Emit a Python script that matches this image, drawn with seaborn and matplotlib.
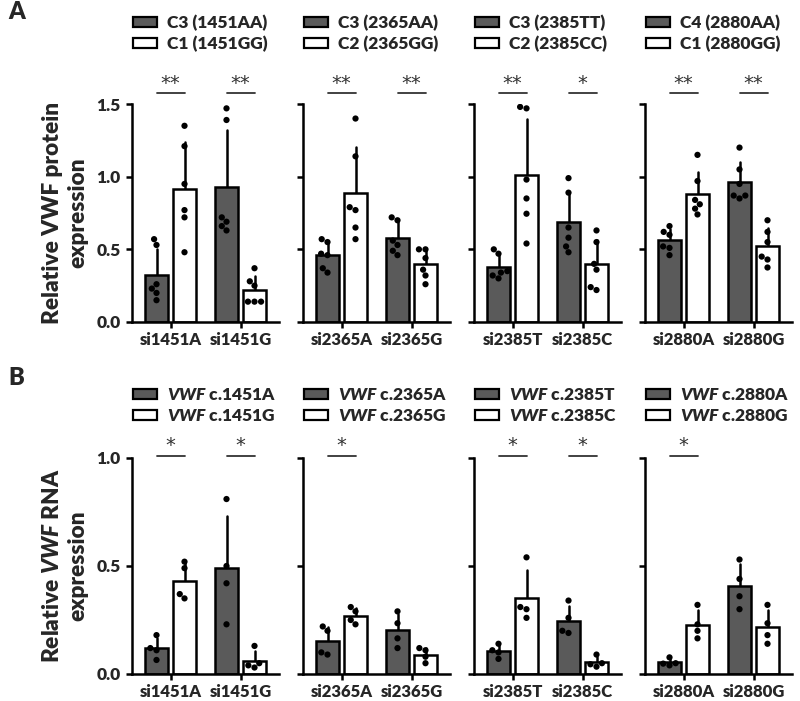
import numpy as np
import pandas as pd
import matplotlib
matplotlib.use("Agg")
import matplotlib.pyplot as plt
import seaborn as sns
from matplotlib.patches import Patch
from matplotlib.transforms import blended_transform_factory

sns.set_theme(style="ticks")
plt.rcParams['font.family'] = ['Lato', 'DejaVu Sans']
plt.rcParams['font.weight'] = 'heavy'
plt.rcParams['mathtext.fontset'] = 'custom'
plt.rcParams['mathtext.it'] = 'Lato:italic:heavy'
plt.rcParams['mathtext.rm'] = 'Lato:heavy'
plt.rcParams['mathtext.bf'] = 'Lato:heavy'

# ---------------- data: panel A (protein) ----------------
A_cats = [["si1451A", "si1451G"], ["si2365A", "si2365G"],
          ["si2385T", "si2385C"], ["si2880A", "si2880G"]]
A_legend_dark = ["C3 (1451AA)", "C3 (2365AA)", "C3 (2385TT)", "C4 (2880AA)"]
A_legend_white = ["C1 (1451GG)", "C2 (2365GG)", "C2 (2385CC)", "C1 (2880GG)"]
A_sig = [["**", "**"], ["**", "**"], ["**", "*"], ["**", "**"]]

A_1451_dark = [[0.57, 0.53, 0.26, 0.23, 0.20, 0.15], [1.47, 1.39, 0.72, 0.69, 0.66, 0.63]]
A_1451_white = [[1.35, 1.21, 0.95, 0.77, 0.72, 0.48], [0.37, 0.28, 0.25, 0.14, 0.14, 0.14]]
A_2365_dark = [[0.57, 0.55, 0.47, 0.46, 0.37, 0.34], [0.72, 0.70, 0.56, 0.53, 0.49, 0.46]]
A_2365_white = [[1.40, 1.14, 0.79, 0.77, 0.65, 0.57], [0.50, 0.50, 0.44, 0.36, 0.32, 0.26]]
A_2385_dark = [[0.50, 0.47, 0.35, 0.34, 0.32, 0.30], [0.99, 0.89, 0.65, 0.58, 0.52, 0.48]]
A_2385_white = [[1.47, 1.48, 0.98, 0.85, 0.745, 0.54], [0.63, 0.55, 0.40, 0.36, 0.24, 0.22]]
A_2880_dark = [[0.66, 0.62, 0.60, 0.52, 0.51, 0.46], [1.20, 1.05, 0.95, 0.87, 0.87, 0.85]]
A_2880_white = [[1.15, 0.97, 0.84, 0.81, 0.78, 0.74], [0.70, 0.62, 0.55, 0.45, 0.43, 0.375]]

# ---------------- data: panel B (RNA) ----------------
B_cats = A_cats
B_legend_dark = ["$\\it{VWF}$ c.1451A", "$\\it{VWF}$ c.2365A", "$\\it{VWF}$ c.2385T", "$\\it{VWF}$ c.2880A"]
B_legend_white = ["$\\it{VWF}$ c.1451G", "$\\it{VWF}$ c.2365G", "$\\it{VWF}$ c.2385C", "$\\it{VWF}$ c.2880G"]
B_sig = [["*", "*"], ["*", ""], ["*", "*"], ["*", ""]]

B_1451_dark = [[0.18, 0.12, 0.11, 0.065], [0.81, 0.50, 0.42, 0.23]]
B_1451_white = [[0.52, 0.49, 0.37, 0.35], [0.13, 0.05, 0.04, 0.03]]
B_2365_dark = [[0.22, 0.20, 0.10, 0.09], [0.29, 0.235, 0.165, 0.12]]
B_2365_white = [[0.31, 0.29, 0.25, 0.23], [0.12, 0.11, 0.08, 0.05]]
B_2385_dark = [[0.14, 0.11, 0.10, 0.07], [0.34, 0.26, 0.20, 0.19]]
B_2385_white = [[0.54, 0.31, 0.30, 0.26], [0.09, 0.05, 0.045, 0.034]]
B_2880_dark = [[0.077, 0.05, 0.048, 0.04], [0.53, 0.44, 0.36, 0.30]]
B_2880_white = [[0.32, 0.23, 0.20, 0.165], [0.32, 0.235, 0.18, 0.14]]

A_dark = [A_1451_dark, A_2365_dark, A_2385_dark, A_2880_dark]
A_white = [A_1451_white, A_2365_white, A_2385_white, A_2880_white]
B_dark = [B_1451_dark, B_2365_dark, B_2385_dark, B_2880_dark]
B_white = [B_1451_white, B_2365_white, B_2385_white, B_2880_white]

DARK = "#5a5a5a"
WT = "heavy"
W, H = 800, 701
fig = plt.figure(figsize=(W / 100, H / 100), dpi=100)

lefts_px = [132, 303, 474, 645]
width_px = 147


def make_df(cats, dark, white):
    rows = []
    for i, c in enumerate(cats):
        for v in dark[i]:
            rows.append((c, "dark", v))
        for v in white[i]:
            rows.append((c, "white", v))
    return pd.DataFrame(rows, columns=["cat", "grp", "val"])


def draw_row(top_px, bot_px, cats_all, darks, whites, leg_d, leg_w, sigs,
             ymax, yticks, ylabel, sig_line_px, sig_txt_px, leg_mid_px):
    h_px = bot_px - top_px
    for p in range(4):
        ax = fig.add_axes([lefts_px[p] / W, 1 - bot_px / H, width_px / W, h_px / H])
        df = make_df(cats_all[p], darks[p], whites[p])
        sns.barplot(data=df, x="cat", y="val", hue="grp", hue_order=["dark", "white"],
                    palette={"dark": DARK, "white": "white"}, errorbar="sd",
                    width=0.8, gap=0.15, edgecolor="black", linewidth=1.8,
                    err_kws={"color": "black", "linewidth": 1.8, "zorder": 0.5},
                    capsize=0, legend=False, ax=ax)
        np.random.seed(1)
        sns.swarmplot(data=df, x="cat", y="val", hue="grp", hue_order=["dark", "white"],
                      palette={"dark": "black", "white": "black"}, dodge=True,
                      size=4.5, legend=False, ax=ax, zorder=3)
        ax.set_xlim(-0.55, 1.55)
        ax.set_ylim(0, ymax)
        ax.set_yticks(yticks)
        ax.set_xlabel("")
        for s in ["top", "right"]:
            ax.spines[s].set_visible(False)
        for s in ["left", "bottom"]:
            ax.spines[s].set_linewidth(1.8)
            ax.spines[s].set_color("black")
        ax.tick_params(axis="both", direction="out", length=4, width=1.8, color="black")
        ax.tick_params(axis="x", labelsize=12, pad=3)
        ax.tick_params(axis="y", labelsize=12.5, pad=4)
        for t in ax.get_xticklabels() + ax.get_yticklabels():
            t.set_fontweight(WT)
        if p == 0:
            ax.set_yticklabels([f"{v:.1f}" for v in yticks], fontweight=WT)
            ax.set_ylabel(ylabel, fontsize=16.3, fontweight=WT, labelpad=6, linespacing=1.25)
        else:
            ax.set_yticklabels([])
            ax.set_ylabel("")
        # significance markers
        trans = blended_transform_factory(ax.transData, ax.transAxes)
        yl = (bot_px - sig_line_px) / h_px
        yt = (bot_px - sig_txt_px) / h_px
        for i, s in enumerate(sigs[p]):
            if not s:
                continue
            ax.plot([i - 0.2, i + 0.2], [yl, yl], color="#333333", lw=1.3,
                    transform=trans, clip_on=False)
            ax.text(i, yt, s, transform=trans, ha="center", va="center",
                    fontsize=14, fontweight="normal", color="#333333",
                    family="DejaVu Sans")
        # legend
        handles = [Patch(facecolor=DARK, edgecolor="black", linewidth=1.6, label=leg_d[p]),
                   Patch(facecolor="white", edgecolor="black", linewidth=1.6, label=leg_w[p])]
        ly = (bot_px - leg_mid_px) / h_px
        ax.legend(handles=handles, loc="center left", bbox_to_anchor=(0.005, ly),
                  frameon=False, handlelength=1.38, handleheight=0.52,
                  handletextpad=0.6, labelspacing=0.3, borderaxespad=0, borderpad=0,
                  prop={"weight": WT, "size": 12.5, "family": ["Lato", "DejaVu Sans"]})


draw_row(104, 322, A_cats, A_dark, A_white, A_legend_dark, A_legend_white, A_sig,
         1.5, [0.0, 0.5, 1.0, 1.5], "Relative VWF protein\nexpression", 93, 83, 33.5)
draw_row(458, 674, B_cats, B_dark, B_white, B_legend_dark, B_legend_white, B_sig,
         1.0, [0.0, 0.5, 1.0], "Relative $\\it{VWF}$ RNA\nexpression", 456, 446, 405.5)

fig.text(8 / W, 1 - 12 / H, "A", fontsize=17, fontweight=WT, va="center", ha="left")
fig.text(8 / W, 1 - 378 / H, "B", fontsize=17, fontweight=WT, va="center", ha="left")

fig.savefig("out.png", dpi=100, facecolor="white")
